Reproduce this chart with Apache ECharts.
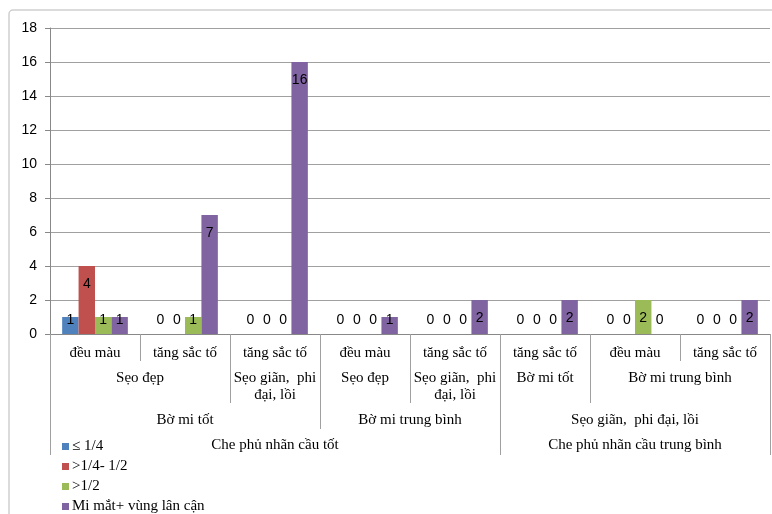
<!DOCTYPE html>
<html>
<head>
<meta charset="utf-8">
<script src="https://cdn.jsdelivr.net/npm/echarts@6/dist/echarts.min.js"></script>
<style>
  html, body { margin: 0; padding: 0; background: #fff; }
  #main { width: 772px; height: 514px; }
</style>
</head>
<body>
<div id="main"></div>
<script>
// nhãn trục x theo từng tầng: [tên, số nhóm con]
var level1 = ['đều màu', 'tăng sắc tố', 'tăng sắc tố', 'đều màu', 'tăng sắc tố', 'tăng sắc tố', 'đều màu', 'tăng sắc tố'];
var level2 = [['Sẹo đẹp', 2], ['Sẹo giãn,  phi\nđại, lồi', 1], ['Sẹo đẹp', 1], ['Sẹo giãn,  phi\nđại, lồi', 1], ['Bờ mi tốt', 1], ['Bờ mi trung bình', 2]];
var level3 = [['Bờ mi tốt', 3], ['Bờ mi trung bình', 2], ['Sẹo giãn,  phi đại, lồi', 3]];
var level4 = [['Che phủ nhãn cầu tốt', 5], ['Che phủ nhãn cầu trung bình', 3]];

var seriesNames = ['≤ 1/4', '>1/4- 1/2', '>1/2', 'Mi mắt+ vùng lân cận'];
var seriesColors = ['#4F81BD', '#C0504D', '#9BBB59', '#8064A2'];
var s1 = [1, 0, 0, 0, 0, 0, 0, 0];
var s2 = [4, 0, 0, 0, 0, 0, 0, 0];
var s3 = [1, 1, 0, 0, 0, 0, 2, 0];
var s4 = [1, 7, 16, 1, 2, 2, 0, 2];
var yTicks = [0, 2, 4, 6, 8, 10, 12, 14, 16, 18];

var myChart = echarts.init(document.getElementById('main'));

var gridColor = '#a0a0a0';
var serif = '"Liberation Serif", "DejaVu Serif", serif';

// tạo tầng nhãn: vị trí giữa nhóm + vạch phân cách
function buildLevel(groups) {
  var pos = 0, centers = [], bounds = [0], names = {};
  groups.forEach(function (g) {
    var c = pos + g[1] / 2;
    centers.push(c);
    names[String(c)] = g[0];
    pos += g[1];
    bounds.push(pos);
  });
  return { centers: centers, bounds: bounds, names: names };
}

var lv1 = buildLevel(level1.map(function (n) { return [n, 1]; }));
var lv2 = buildLevel(level2);
var lv3 = buildLevel(level3);
var lv4 = buildLevel(level4);

function levelAxis(lv, offset, tickLen, margin) {
  return {
    type: 'value',
    gridIndex: 0,
    position: 'bottom',
    min: 0,
    max: level1.length,
    offset: offset,
    axisLine: { show: false },
    splitLine: { show: false },
    axisTick: {
      show: true,
      customValues: lv.bounds,
      length: tickLen,
      lineStyle: { color: gridColor, width: 1 }
    },
    axisLabel: {
      customValues: lv.centers,
      margin: margin,
      color: '#000',
      fontFamily: serif,
      fontSize: 15,
      lineHeight: 17,
      formatter: function (v) { return lv.names[String(v)] || ''; }
    }
  };
}

function barData(vals) {
  return vals.map(function (v) {
    // nhãn nhỏ (0, 1) nằm sát đáy, còn lại nằm trong đỉnh cột
    return {
      value: v,
      label: v <= 1 ? { position: 'insideBottom', distance: 7 } : { position: 'insideTop', distance: 11 }
    };
  });
}

var allVals = [s1, s2, s3, s4];
var series = allVals.map(function (vals, i) {
  return {
    name: seriesNames[i],
    type: 'bar',
    xAxisIndex: 0,
    barGap: '0%',
    barCategoryGap: '27%',
    itemStyle: { color: seriesColors[i] },
    label: {
      show: true,
      color: '#000',
      fontSize: 14,
      fontFamily: '"Liberation Sans", Arial, sans-serif'
    },
    data: barData(vals)
  };
});

var option = {
  animation: false,
  graphic: [{
    type: 'rect',
    silent: true,
    shape: { x: 9, y: 10, width: 820, height: 560, r: 4 },
    style: { fill: 'none', stroke: '#cfcfcf', lineWidth: 1.5 }
  }],
  legend: {
    orient: 'vertical',
    left: 62,
    top: 439,
    padding: 0,
    height: 80,
    itemWidth: 7,
    itemHeight: 7,
    itemGap: 5,
    icon: 'rect',
    data: seriesNames,
    textStyle: { color: '#000', fontFamily: serif, fontSize: 15, lineHeight: 14, padding: [0, 0, 0, -2] }
  },
  grid: { left: 50, right: 2, top: 28, bottom: 180 },
  xAxis: [
    {
      type: 'category',
      data: level1,
      axisLine: { lineStyle: { color: '#888' } },
      axisTick: { show: false },
      axisLabel: { show: false }
    },
    levelAxis(lv1, 0, 27, 11),
    levelAxis(lv2, 27, 42, 9),
    levelAxis(lv3, 69, 26, 9),
    levelAxis(lv4, 95, 26, 8)
  ],
  yAxis: {
    type: 'value',
    min: yTicks[0],
    max: yTicks[yTicks.length - 1],
    interval: 2,
    axisLine: { show: true, lineStyle: { color: '#888' } },
    axisTick: { show: true, length: 5, lineStyle: { color: '#888' } },
    splitLine: { lineStyle: { color: gridColor, width: 1 } },
    axisLabel: {
      color: '#000',
      fontSize: 14,
      margin: 13,
      fontFamily: '"Liberation Sans", Arial, sans-serif'
    }
  },
  series: series
};

myChart.setOption(option);
</script>
</body>
</html>
